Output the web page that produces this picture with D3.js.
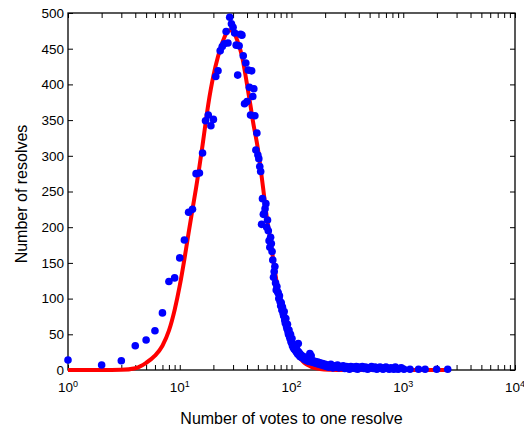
<!DOCTYPE html>
<html>
<head>
<meta charset="utf-8">
<script src="https://cdn.jsdelivr.net/npm/d3@7"></script>
<style>
  body { margin: 0; background: #fff; }
  text { font-family: "Liberation Sans", Arial, sans-serif; fill: #000; }
</style>
</head>
<body>
<div id="plot"></div>
<script>
// votes per resolve (x) and how many resolves got that many votes (y)
const votes = [1, 2, 3, 4, 5, 6, 7, 8, 9, 10, 11, 12, 13, 14, 15, 16, 17, 18, 19, 20,
  21, 22, 23, 24, 25, 26, 27, 28, 29, 30, 31, 32, 33, 34, 35, 36, 37, 38, 39, 40,
  41, 42, 43, 44, 45, 46, 47, 48, 49, 50, 51, 52, 53, 54, 55, 56, 57, 58, 59, 60,
  61, 62, 63, 64, 65, 66, 67, 68, 69, 70, 71, 72, 73, 74, 75, 76, 77, 78, 79, 80,
  81, 82, 83, 84, 85, 86, 87, 88, 89, 90, 91, 92, 93, 94, 95, 96, 97, 98, 99, 100,
  101, 102, 103, 104, 105, 106, 107, 108, 109, 110, 111, 112, 113, 114, 115, 116, 117, 118, 119, 120,
  122, 124, 126, 128, 130, 132, 134, 136, 138, 140, 143, 146, 148, 150, 153, 156, 160, 164, 168, 172,
  176, 180, 185, 190, 195, 200, 205, 210, 215, 220, 225, 230, 235, 240, 245, 250, 258, 265, 272, 280,
  290, 300, 310, 320, 330, 340, 350, 360, 370, 380, 390, 400, 415, 430, 445, 460, 480, 500, 520, 540,
  560, 580, 600, 620, 640, 660, 680, 700, 725, 750, 775, 800, 825, 850, 875, 900, 930, 960, 1015, 1150,
  1370, 1570, 1990, 2500];
const resolves = [14, 7, 13, 34, 42, 55, 80, 124, 129, 157, 182, 221, 225, 275, 276, 304, 349, 357, 342, 351,
  411, 419, 447, 453, 457, 474, 458, 494, 485, 480, 472, 455, 413, 454, 470, 469, 440, 373, 430, 376,
  420, 396, 357, 419, 383, 394, 356, 308, 332, 301, 296, 285, 278, 204, 240, 218, 219, 226, 233, 200,
  210, 195, 181, 172, 186, 177, 166, 154, 130, 138, 145, 122, 112, 117, 110, 108, 100, 104, 96, 90,
  94, 84, 88, 80, 76, 82, 70, 66, 72, 62, 58, 64, 54, 50, 56, 47, 44, 50, 40, 38,
  44, 34, 36, 31, 35, 29, 32, 28, 30, 26, 34, 24, 27, 22, 37, 25, 21, 23, 19, 22,
  18, 20, 17, 19, 15, 17, 14, 16, 13, 15, 12, 23, 14, 20, 11, 13, 10, 12, 9, 11,
  8, 10, 7, 9, 6, 8, 5, 7, 4, 6, 8, 5, 3, 6, 4, 5, 7, 3, 5, 4,
  6, 2, 5, 4, 1, 5, 3, 4, 2, 5, 1, 4, 3, 5, 2, 4, 1, 3, 5, 2,
  4, 1, 3, 4, 2, 1, 3, 4, 2, 1, 3, 2, 1, 4, 2, 1, 2, 3, 1, 1,
  1, 1, 1, 1];

// fitted curve
const fitVotes = [1, 2, 3, 4, 5, 6, 7, 8, 9, 10, 11, 12, 13, 14, 15, 16, 17,
  18, 19, 20, 22, 24, 26, 28, 30, 33, 36, 40, 43, 45, 50, 55, 60, 65, 70, 75, 80,
  90, 100, 115, 130, 150, 180, 220, 300, 2500];
const fitCounts = [0, 0, 0.3, 2.5, 10, 20, 34, 55, 84, 118, 155, 192, 225, 255, 285, 315, 345,
  372, 394, 412, 439, 458, 471, 476, 474, 460, 440, 400, 370, 350, 310, 262, 215, 180, 145, 115, 92,
  60, 38, 20, 10, 4.5, 1.5, 0.4, 0, 0];

const xMajor = [1, 10, 100, 1000, 10000];
const yTicks = [0, 50, 100, 150, 200, 250, 300, 350, 400, 450, 500];

const width = 524, height = 430;
const mLeft = 68, mRight = 515, mTop = 13, mBottom = 370;

const svg = d3.select("div#plot")
  .append("svg")
  .attr("width", width)
  .attr("height", height);

const x = d3.scaleLog().domain([1, 10000]).range([mLeft, mRight]);
const y = d3.scaleLinear().domain([0, 500]).range([mBottom, mTop]);

// minor ticks 2..9 in each decade
const xMinor = [];
xMajor.slice(0, -1).forEach(function(d) {
  for (let k = 2; k <= 9; k++) xMinor.push(d * k);
});

function drawAxis(axis, tx, ty) {
  const g = svg.append("g")
    .attr("transform", `translate(${tx},${ty})`)
    .call(axis);
  g.select(".domain").remove();
  g.selectAll("line").attr("stroke", "#000");
  return g;
}

const tick = 5;
drawAxis(d3.axisBottom(x).tickValues(xMajor.concat(xMinor)).tickSize(-tick).tickFormat(""), 0, mBottom);
drawAxis(d3.axisTop(x).tickValues(xMajor.concat(xMinor)).tickSize(-tick).tickFormat(""), 0, mTop);
drawAxis(d3.axisLeft(y).tickValues(yTicks).tickSize(-tick).tickFormat(""), mLeft, 0);
drawAxis(d3.axisRight(y).tickValues(yTicks).tickSize(-tick).tickFormat(""), mRight, 0);

svg.append("rect")
  .attr("x", mLeft)
  .attr("y", mTop)
  .attr("width", mRight - mLeft)
  .attr("height", mBottom - mTop)
  .attr("fill", "none")
  .attr("stroke", "#000")
  .attr("stroke-width", 1.3);

// y tick labels
svg.selectAll(".ylab")
  .data(yTicks)
  .join("text")
  .attr("class", "ylab")
  .attr("x", mLeft - 4)
  .attr("y", d => y(d))
  .attr("dy", "0.36em")
  .attr("text-anchor", "end")
  .style("font-size", "13.5px")
  .text(d => d);

// x tick labels: 10 with superscript exponent
const xl = svg.selectAll(".xlab")
  .data(xMajor)
  .join("text")
  .attr("class", "xlab")
  .attr("x", d => x(d))
  .attr("y", mBottom + 22)
  .attr("text-anchor", "middle")
  .style("font-size", "13.5px");
xl.append("tspan").text("10");
xl.append("tspan")
  .attr("dy", "-0.6em")
  .style("font-size", "9px")
  .text(d => Math.round(Math.log10(d)));

// fitted line
const line = d3.line()
  .x(d => x(d[0]))
  .y(d => y(d[1]))
  .curve(d3.curveMonotoneX);

svg.append("path")
  .datum(fitVotes.map((v, i) => [v, fitCounts[i]]))
  .attr("d", line)
  .attr("fill", "none")
  .attr("stroke", "#ff0000")
  .attr("stroke-width", 4)
  .attr("stroke-linejoin", "round");

// data points
svg.selectAll(".dot")
  .data(votes.map((v, i) => [v, resolves[i]]))
  .join("circle")
  .attr("class", "dot")
  .attr("cx", d => x(d[0]))
  .attr("cy", d => y(d[1]))
  .attr("r", 3.8)
  .attr("fill", "#0000ff");

svg.append("text")
  .attr("x", (mLeft + mRight) / 2)
  .attr("y", 424)
  .attr("text-anchor", "middle")
  .style("font-size", "16px")
  .text("Number of votes to one resolve");

svg.append("text")
  .attr("transform", `translate(27,194) rotate(-90)`)
  .attr("text-anchor", "middle")
  .style("font-size", "16px")
  .text("Number of resolves");
</script>
</body>
</html>
